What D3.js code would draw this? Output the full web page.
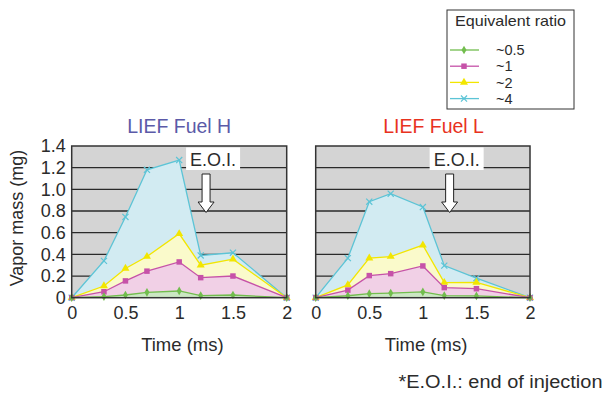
<!DOCTYPE html>
<html>
<head>
<meta charset="utf-8">
<script src="https://cdn.jsdelivr.net/npm/d3@7"></script>
<style>
  html, body { margin: 0; padding: 0; background: #fff; }
  svg { display: block; font-family: "Liberation Sans", Arial, sans-serif; }
</style>
</head>
<body>
<svg id="chart" width="607" height="394"></svg>
<script>
// Sampling times (ms)
const times = [0, 0.3, 0.5, 0.7, 1.0, 1.2, 1.5, 2.0];

// Vapor mass (mg), LIEF Fuel H
const fuelH_05 = [0, 0.01, 0.025, 0.05, 0.062, 0.02, 0.025, 0];
const fuelH_1  = [0, 0.055, 0.155, 0.245, 0.33, 0.185, 0.20, 0];
const fuelH_2  = [0, 0.108, 0.27, 0.38, 0.59, 0.30, 0.355, 0];
const fuelH_4  = [0, 0.34, 0.745, 1.18, 1.27, 0.39, 0.415, 0];

// Vapor mass (mg), LIEF Fuel L
const fuelL_05 = [0, 0.018, 0.037, 0.043, 0.053, 0.02, 0.016, 0];
const fuelL_1  = [0, 0.07, 0.204, 0.222, 0.293, 0.093, 0.083, 0];
const fuelL_2  = [0, 0.118, 0.365, 0.38, 0.485, 0.14, 0.142, 0];
const fuelL_4  = [0, 0.365, 0.886, 0.96, 0.837, 0.296, 0.18, 0];

const seriesNames = ["~0.5", "~1", "~2", "~4"];
const yTicks = [0, 0.2, 0.4, 0.6, 0.8, 1.0, 1.2, 1.4];
const xTicks = [0, 0.5, 1, 1.5, 2];
const eoiTime = 1.25;

const textColor = "#2b2b2b";

const styles = {
  "~0.5": { line: "#72bd4e", fill: "#cbe7c3", marker: "diamond" },
  "~1":   { line: "#c652a8", fill: "#f1d0e6", marker: "square" },
  "~2":   { line: "#f2e600", fill: "#fafacb", marker: "triangle" },
  "~4":   { line: "#5cc4d6", fill: "#d2ebf2", marker: "cross" }
};

const svg = d3.select("#chart");

const y = d3.scaleLinear().domain([0, 1.4]).range([297.7, 146]);

function drawMarker(g, type, cx, cy, color) {
  if (type === "diamond") {
    g.append("path").attr("d", d3.symbol(d3.symbolDiamond, 22)()).attr("transform", `translate(${cx},${cy})`).attr("fill", color);
  } else if (type === "square") {
    g.append("path").attr("d", d3.symbol(d3.symbolSquare, 30)()).attr("transform", `translate(${cx},${cy})`).attr("fill", color);
  } else if (type === "triangle") {
    g.append("path").attr("d", d3.symbol(d3.symbolTriangle, 28)()).attr("transform", `translate(${cx},${cy})`).attr("fill", color);
  } else {
    g.append("path").attr("d", d3.symbol(d3.symbolX, 26)()).attr("transform", `translate(${cx},${cy})`)
      .attr("fill", "none").attr("stroke", color).attr("stroke-width", 1.2);
  }
}

function panel(x0, x1, data, title, titleColor, titleAt, showY) {
  const x = d3.scaleLinear().domain([0, 2]).range([x0, x1]);
  const g = svg.append("g");

  // plot background
  g.append("rect").attr("x", x0).attr("y", y(1.4)).attr("width", x1 - x0).attr("height", y(0) - y(1.4))
    .attr("fill", "#d4d4d4");

  // horizontal grid
  g.selectAll("line.grid").data(yTicks.slice(1, -1)).join("line")
    .attr("x1", x0).attr("x2", x1).attr("y1", d => y(d)).attr("y2", d => y(d))
    .attr("stroke", "#2a2a2a").attr("stroke-width", 1.3);

  // filled areas, largest in the back
  const area = d3.area().x((d, i) => x(times[i])).y0(y(0)).y1(d => y(d));
  const line = d3.line().x((d, i) => x(times[i])).y(d => y(d));
  const order = ["~4", "~2", "~1", "~0.5"];
  order.forEach(name => {
    g.append("path").attr("d", area(data[name])).attr("fill", styles[name].fill);
  });
  order.forEach(name => {
    g.append("path").attr("d", line(data[name])).attr("fill", "none")
      .attr("stroke", styles[name].line).attr("stroke-width", 1.3);
    data[name].forEach((v, i) => drawMarker(g, styles[name].marker, x(times[i]), y(v), styles[name].line));
  });

  // frame
  g.append("rect").attr("x", x0).attr("y", y(1.4)).attr("width", x1 - x0).attr("height", y(0) - y(1.4))
    .attr("fill", "none").attr("stroke", "#333").attr("stroke-width", 1.5);

  // x axis labels
  const xa = g.append("g").attr("transform", `translate(0,${y(0)})`)
    .call(d3.axisBottom(x).tickValues(xTicks).tickSize(0).tickPadding(8).tickFormat(d3.format("")));
  xa.select(".domain").remove();
  xa.selectAll("text").attr("font-size", 18).attr("fill", textColor).attr("font-family", "Liberation Sans, Arial, sans-serif")
    .attr("dy", "0.75em");

  if (showY) {
    const ya = g.append("g").attr("transform", `translate(${x0},0)`)
      .call(d3.axisLeft(y).tickValues(yTicks).tickSize(0).tickPadding(6).tickFormat(d => d === 0 ? "0" : d3.format(".1f")(d)));
    ya.select(".domain").remove();
    ya.selectAll("text").attr("font-size", 18).attr("fill", textColor).attr("font-family", "Liberation Sans, Arial, sans-serif");
  }

  // x axis title
  g.append("text").attr("x", x(1.03)).attr("y", 351).attr("text-anchor", "middle")
    .attr("font-size", 18.5).attr("fill", textColor).text("Time (ms)");

  // panel title
  g.append("text").attr("x", x(titleAt)).attr("y", 132.5)
    .attr("text-anchor", "middle").attr("font-size", 19.5).attr("fill", titleColor).text(title);

  // end-of-injection marker
  const ex = x(eoiTime);
  const lbl = g.append("g");
  lbl.append("rect").attr("x", ex - 20).attr("y", 147.5).attr("width", 54).attr("height", 22.5).attr("fill", "#fff");
  lbl.append("text").attr("x", ex + 7).attr("y", 166).attr("text-anchor", "middle")
    .attr("font-size", 18).attr("fill", textColor).text("E.O.I.");
  g.append("path")
    .attr("d", `M${ex - 4},174 L${ex + 4},174 L${ex + 4},202 L${ex + 8},202 L${ex},212.5 L${ex - 8},202 L${ex - 4},202 Z`)
    .attr("fill", "#fff").attr("stroke", "#222").attr("stroke-width", 1);
}

panel(71.7, 286.7,
  { "~0.5": fuelH_05, "~1": fuelH_1, "~2": fuelH_2, "~4": fuelH_4 },
  "LIEF Fuel H", "#5b5aa8", 1.0, true);
panel(315.7, 530,
  { "~0.5": fuelL_05, "~1": fuelL_1, "~2": fuelL_2, "~4": fuelL_4 },
  "LIEF Fuel L", "#e8321e", 1.1, false);

// y axis title
svg.append("text").attr("transform", "translate(23,218) rotate(-90)").attr("text-anchor", "middle")
  .attr("font-size", 18).attr("fill", textColor).text("Vapor mass (mg)");

// legend
const lg = svg.append("g");
lg.append("rect").attr("x", 447).attr("y", 10).attr("width", 127).attr("height", 99)
  .attr("fill", "#fff").attr("stroke", "#333").attr("stroke-width", 1);
lg.append("text").attr("x", 455).attr("y", 25.5).attr("font-size", 14.5).attr("fill", textColor)
  .attr("textLength", 111).attr("lengthAdjust", "spacingAndGlyphs").text("Equivalent ratio");
seriesNames.forEach((name, i) => {
  const cy = 50 + i * 16.2;
  const s = styles[name];
  lg.append("line").attr("x1", 450).attr("x2", 479).attr("y1", cy).attr("y2", cy)
    .attr("stroke", s.line).attr("stroke-width", 1.3);
  drawMarker(lg, s.marker, 464, cy, s.line);
  lg.append("text").attr("x", 496).attr("y", cy + 5.2).attr("font-size", 14.5).attr("fill", textColor).text(name);
});

// footnote
svg.append("text").attr("x", 398.5).attr("y", 387.5).attr("font-size", 17.5).attr("fill", textColor)
  .attr("textLength", 204).attr("lengthAdjust", "spacingAndGlyphs")
  .text("*E.O.I.: end of injection");
</script>
</body>
</html>
